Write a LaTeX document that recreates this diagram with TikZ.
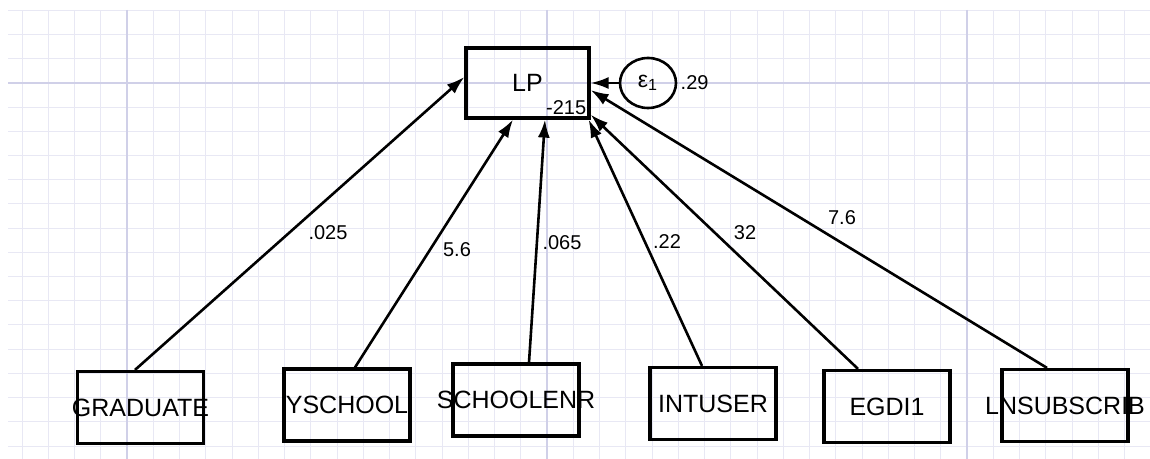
\documentclass[tikz,border=0pt]{standalone}
\usepackage{fontspec}
\setmainfont{Liberation Sans}
\usepackage{xcolor}
\usepackage{tikz}
\usetikzlibrary{arrows.meta,positioning,shapes.geometric}

\definecolor{gridminor}{RGB}{232,232,244}
\definecolor{gridmajor}{RGB}{208,208,232}
\newcommand{\widename}[1]{\makebox[0pt]{#1}}

\begin{document}
\begin{tikzpicture}[x=0.5pt, y=-0.5pt,
  varbox/.style={draw, line width=1.6pt, minimum width=63pt, minimum height=36pt,
    inner sep=0pt, font=\fontsize{12.5}{14}\selectfont},
  errnode/.style={draw, ellipse, line width=1.3pt, minimum width=28pt,
    minimum height=25pt, inner sep=0pt, font=\fontsize{11.5}{13}\selectfont},
  coef/.style={inner sep=0pt, font=\fontsize{10}{12}\selectfont},
  effect/.style={line width=1.3pt, -{Latex[length=9pt,width=6pt]}},
  gridline/.style={gridminor, line width=0.5pt},
  gridmaj/.style={gridmajor, line width=0.6pt}]
  \useasboundingbox (0,0) rectangle (1150,459);
  % background grid
  \foreach \k in {0,...,43}
    \draw[gridline] ({22+26.25*\k},10) -- ({22+26.25*\k},459);
  \foreach \k in {0,...,18}
    \draw[gridline] (8,{10.4+24.2*\k}) -- (1150,{10.4+24.2*\k});
  \foreach \gx in {127,547,967}
    \draw[gridmaj] (\gx,10) -- (\gx,459);
  \draw[gridmaj] (8,83) -- (1150,83);

  % dependent variable and its error
  \node[varbox, minimum width=61.5pt, minimum height=35pt] (lp) at (527.5,83) {LP};
  \node[coef, anchor=south east] (lpint) at ([xshift=-2pt, yshift=2.5pt]lp.south east) {-215};
  \node[errnode] (eps) at (648,83) {ε\textsubscript{1}};
  \node[coef, right=1.5pt of eps] (epsvar) {.29};

  % predictors
  \node[varbox] (grad)  at (140.5,407.5) {\widename{GRADUATE}};
  \node[varbox] (ysch)  at (347,405)     {\widename{YSCHOOL}};
  \node[varbox] (senr)  at (516,400)     {\widename{SCHOOLENR}};
  \node[varbox] (intu)  at (713,403.5)   {\widename{INTUSER}};
  \node[varbox] (egdi)  at (887,406.5)   {\widename{EGDI1}};
  \node[varbox] (lnsub) at (1065,405.5)  {\widename{LNSUBSCRIB}};

  % paths
  \draw[effect] (eps) -- (lp.east);
  \draw[effect] ([xshift=-2.75pt]grad.north) -- ([yshift=3pt]lp.west);
  \draw[effect] ([xshift=4pt]ysch.north) -- ([xshift=-7.25pt]lp.south);
  \draw[effect] ([xshift=6.5pt]senr.north) -- ([xshift=8.75pt]lp.south);
  \draw[effect] ([xshift=-5.5pt]intu.north) -- ([xshift=-1pt]lp.south east);
  \draw[effect] ([xshift=-14.5pt]egdi.north) -- ([yshift=2.5pt]lp.south east);
  \draw[effect] ([xshift=-9pt]lnsub.north) -- ([yshift=-3.5pt]lp.east);

  % coefficients
  \node[coef] (cgrad)  at (328,233) {.025};
  \node[coef] (cysch)  at (457,250) {5.6};
  \node[coef] (csenr)  at (562,243) {.065};
  \node[coef] (cintu)  at (667,242) {.22};
  \node[coef] (cegdi)  at (745,233) {32};
  \node[coef] (clnsub) at (842,218) {7.6};
\end{tikzpicture}
\end{document}
